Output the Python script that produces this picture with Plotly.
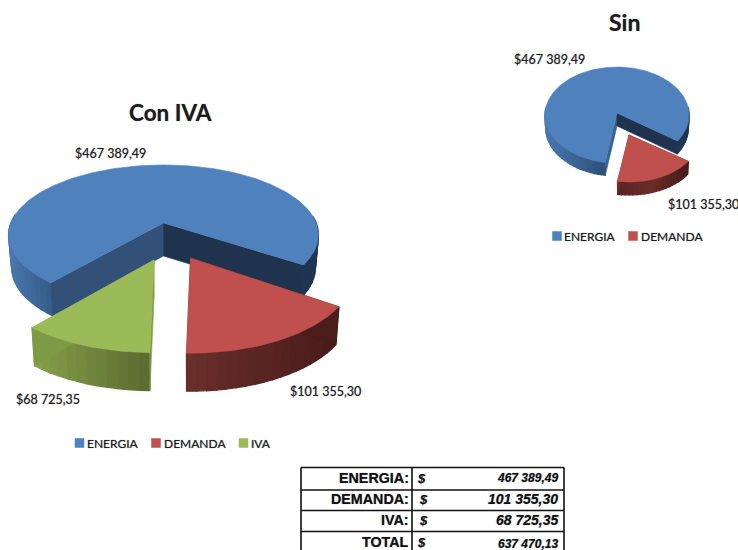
import math
import plotly.graph_objects as go

# ---- data ----
categories = ["ENERGIA", "DEMANDA", "IVA"]
values = [467389.49, 101355.30, 68725.35]
slice_labels = ["$467 389,49", "$101 355,30", "$68 725,35"]
table_labels = ["ENERGIA:", "DEMANDA:", "IVA:", "TOTAL"]
table_values = ["467 389,49", "101 355,30", "68 725,35", "637 470,13"]
title_con = "Con IVA"
title_sin = "Sin"

# ---- style ----
TOP = ["#4f81bd", "#c0504d", "#9bbb59"]
LABEL_FONT = "Lato"
TEXT = "#1c1c1c"
SOFT = "0px 0px 1px rgba(20,20,40,0.55)"


def hex2rgb(h):
    return tuple(int(h[i:i + 2], 16) for i in (1, 3, 5))


def ramp(stops, x):
    if x <= stops[0][0]:
        return stops[0][1]
    for (x0, c0), (x1, c1) in zip(stops, stops[1:]):
        if x <= x1:
            t = (x - x0) / (x1 - x0)
            a, b = hex2rgb(c0), hex2rgb(c1)
            return "rgb(%d,%d,%d)" % tuple(a[i] + (b[i] - a[i]) * t for i in range(3))
    return stops[-1][1]


fig = go.Figure()


def poly(xs, ys, color, width=0.6):
    fig.add_trace(go.Scatter(
        x=xs, y=ys, mode="lines", fill="toself", fillcolor=color,
        line=dict(color=color, width=width), hoverinfo="skip", showlegend=False))


def draw_pie(vals, cfg):
    total = sum(vals)
    ang = cfg["start"]
    A, B, k = cfg["A"], cfg["B"], cfg["k"]
    for i, v in enumerate(vals):
        sweep = v / total * 360
        a0, a1 = ang, ang + sweep
        ang = a1
        sc = cfg["slices"][i]
        ax = cfg["cx"] + sc["ox"]
        ay = cfg["cy"] + sc["oy"]
        sx, sy = sc["sx"], sc["sy"]
        d = sc["depth"]

        def pt(deg, down=False):
            t = math.radians(deg)
            X, Y = math.cos(t), math.sin(t)
            w = 1 + k * Y
            x, y = sx * A * X / w, sy * B * Y / w
            if down:
                return ax + x * cfg["shrink"], ay + y + d
            return ax + x, ay + y

        # outer wall, one strip at a time so that the shade varies along x
        n = max(2, int(sweep / 3))
        grid = [a0 + (a1 - a0) * j / n for j in range(n + 1)]
        for g0, g1 in zip(grid, grid[1:]):
            if math.sin(math.radians((g0 + g1) / 2)) < -0.12:
                continue
            p0, p1, q1, q0 = pt(g0), pt(g1), pt(g1, True), pt(g0, True)
            poly([p0[0], p1[0], q1[0], q0[0], p0[0]],
                 [p0[1], p1[1], q1[1], q0[1], p0[1]],
                 ramp(sc["wall"], (p0[0] + p1[0]) / 2), width=1.2)
        # cut faces
        for deg, col in ((a0, sc["cut0"]), (a1, sc["cut1"])):
            p, q = pt(deg), pt(deg, True)
            poly([ax, p[0], q[0], ax, ax], [ay, p[1], q[1], ay + d, ay], col)
        # top face
        m = max(8, int(sweep))
        arc = [pt(a0 + (a1 - a0) * j / m) for j in range(m + 1)]
        poly([ax] + [p[0] for p in arc] + [ax], [ay] + [p[1] for p in arc] + [ay], TOP[i])


con_cfg = dict(
    cx=163.5, cy=223, A=152.7, B=68, k=-0.171, start=130, shrink=0.98,
    slices=[
        dict(ox=0, oy=0, sx=1, sy=1, depth=33,
             wall=[(9, "#4a78ae"), (60, "#30567f"), (300, "#1f3552")],
             cut0="#325078", cut1="#1f334f"),
        dict(ox=27, oy=35, sx=1.06, sy=1.16, depth=38,
             wall=[(187, "#6a2f2b"), (260, "#5a2623"), (338, "#4a1c1a")],
             cut0="#4a1c1a", cut1="#6a2f2b"),
        dict(ox=-9.5, oy=37, sx=1.08, sy=1.13, depth=38,
             wall=[(32, "#86a04a"), (150, "#5a6b30")],
             cut0="#7f9a45", cut1="#7f9a45"),
    ])
sin_cfg = dict(
    cx=617, cy=113, A=72, B=47.9, k=-0.0417, start=99, shrink=0.99,
    slices=[
        dict(ox=0, oy=0, sx=1, sy=1, depth=13,
             wall=[(545, "#4a78ae"), (606, "#2d4f78"), (689, "#1f3552")],
             cut0="#3a6291", cut1="#1f334f"),
        dict(ox=12, oy=22, sx=0.98, sy=0.94, depth=13,
             wall=[(619, "#5a2422"), (650, "#6a2e2a"), (689, "#471b19")],
             cut0="#4a1c1a", cut1="#6a2f2b"),
    ])

draw_pie(values, con_cfg)
draw_pie(values[:2], sin_cfg)

annotations = []


def note(text, x, y, size, anchor="center", bold=False, italic=False, family=LABEL_FONT, color=TEXT):
    if bold:
        text = "<b>%s</b>" % text
    if italic:
        text = "<i>%s</i>" % text
    annotations.append(dict(
        x=x, y=y, xref="x", yref="y", text=text, showarrow=False, xanchor=anchor, yanchor="middle",
        font=dict(family=family, size=size, color=color, shadow=SOFT), borderpad=0, borderwidth=0))


note(title_con, 170, 112, 22.5, bold=True)
note(title_sin, 624, 22, 23, bold=True)

for lab, x, y in zip(slice_labels, (110, 325.5, 48), (153, 391, 399)):
    note(lab, x, y, 12.5)
for lab, x, y in zip(slice_labels, (549.5, 703), (59, 204)):
    note(lab, x, y, 12.5)


def legend(names, swatch_x, text_x, y):
    for i, name in enumerate(names):
        fig.add_trace(go.Scatter(
            x=[swatch_x[i]], y=[y], mode="markers", hoverinfo="skip", showlegend=False,
            marker=dict(symbol="square", size=9.5, color=TOP[i], line=dict(width=0))))
        note(name, text_x[i], y, 12, anchor="left")


legend(categories, (79.5, 156, 243.5), (87, 164, 251), 443)
legend(categories[:2], (557, 633), (564, 641), 236)

# ---- table ----
table_x = (301, 412, 564)
table_y = (467.5, 490, 510.5, 531.5, 551)
shapes = []
for x in table_x:
    shapes.append(dict(type="line", xref="x", yref="y", x0=x, x1=x, y0=table_y[0], y1=551,
                       line=dict(color="#111111", width=1.6)))
for y in table_y[:-1]:
    shapes.append(dict(type="line", xref="x", yref="y", x0=table_x[0], x1=table_x[2], y0=y, y1=y,
                       line=dict(color="#111111", width=1.6)))

row_y = (478, 499, 520, 542)
value_sizes = (12, 14, 14, 12)
label_sizes = (14.3, 14.3, 14.3, 14.3)
dollar_x = (421, 423, 423, 421)
for i in range(4):
    note(table_labels[i], 409, row_y[i], label_sizes[i], anchor="right", bold=True,
         family="Liberation Sans", color="#111111")
    note("$", dollar_x[i], row_y[i], 13, bold=True, italic=True, family="Liberation Sans", color="#111111")
    note(table_values[i], 558, row_y[i] + (2 if i == 3 else 0), value_sizes[i], anchor="right", bold=True,
         italic=True, family="Liberation Sans", color="#111111")

fig.update_layout(
    width=738, height=550, autosize=False,
    margin=dict(l=0, r=0, t=0, b=0),
    paper_bgcolor="white", plot_bgcolor="white",
    showlegend=False, annotations=annotations, shapes=shapes,
    xaxis=dict(range=[0, 738], visible=False, fixedrange=True),
    yaxis=dict(range=[550, 0], visible=False, fixedrange=True),
)
fig.write_html("out.html", config=dict(displayModeBar=False),
               post_script="document.body.style.margin='0';document.body.style.overflow='hidden';")
